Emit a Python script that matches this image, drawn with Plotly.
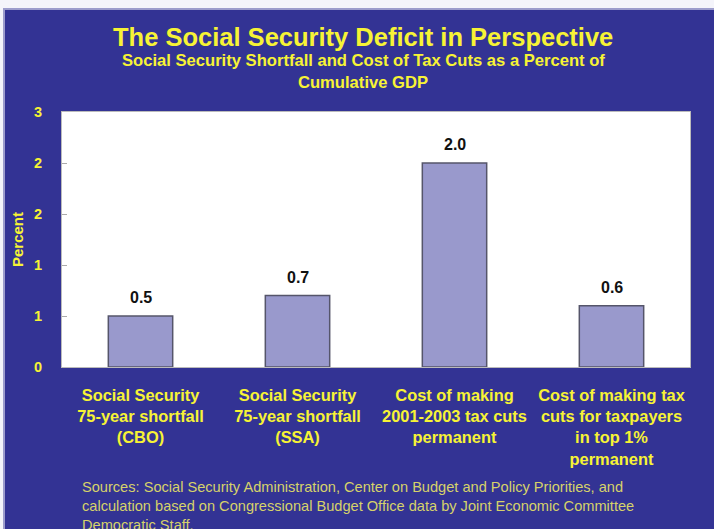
import plotly.graph_objects as go

categories = [
    "Social Security<br>75-year shortfall<br>(CBO)",
    "Social Security<br>75-year shortfall<br>(SSA)",
    "Cost of making<br>2001-2003 tax cuts<br>permanent",
    "Cost of making tax<br>cuts for taxpayers<br>in top 1%<br>permanent",
]
values = [0.5, 0.7, 2.0, 0.6]
y_tick_vals = [0, 0.5, 1.0, 1.5, 2.0, 2.5]
y_tick_text = ["0", "1", "1", "2", "2", "3"]

title = "The Social Security Deficit in Perspective"
subtitle_lines = ["Social Security Shortfall and Cost of Tax Cuts as a Percent of", "Cumulative GDP"]
y_title = "Percent"
source = ("Sources: Social Security Administration, Center on Budget and Policy Priorities, and<br>"
          "calculation based on Congressional Budget Office data by Joint Economic Committee<br>"
          "Democratic Staff.")

BG = "#333394"
YEL = "#F7F335"
SRC = "#D6D26A"
FONT = "Liberation Sans, Arial, sans-serif"

W, H = 714, 529
L, R, T, B = 62, 690, 112, 367  # plot area in px


def px_x(px):
    return (px - L) / (R - L)


def px_y(py):
    return (B - py) / (B - T)


fig = go.Figure(go.Bar(
    x=categories, y=values,
    marker=dict(color="#9999CC", line=dict(color="#55556A", width=1.5)),
    width=0.41,
    cliponaxis=False,
))

# value labels above bars
for c, v in zip(categories, values):
    fig.add_annotation(
        x=c, y=v, xref="x", yref="y", text=f"{v:.1f}", showarrow=False,
        yanchor="bottom", yshift=8,
        font=dict(family=FONT, size=16, color="#111111", weight="bold"),
    )

fig.update_layout(
    width=W, height=H,
    margin=dict(l=L, r=W - R, t=T, b=H - B),
    paper_bgcolor=BG, plot_bgcolor="white",
    showlegend=False,
    bargap=0.59,
    font=dict(family=FONT),
)

fig.update_xaxes(
    tickfont=dict(family=FONT, size=16.4, color=YEL, weight="bold"),
    showline=True, linecolor="#BBBBBB", linewidth=1, mirror=True,
    ticks="", showgrid=False,
    ticklabelstandoff=13,
)
fig.update_yaxes(
    range=[0, 2.5], tickvals=y_tick_vals, ticktext=y_tick_text,
    tickfont=dict(family=FONT, size=14.5, color=YEL, weight="bold"),
    ticks="inside", ticklen=5, tickcolor="#AAAAAA",
    showline=True, linecolor="#BBBBBB", linewidth=1, mirror=True,
    showgrid=False, zeroline=False,
    ticklabelstandoff=16,
)

ann = [
    dict(text=title, x=px_x(362.5), y=px_y(37), font=dict(family=FONT, size=25.5, color=YEL, weight="bold")),
    dict(text=subtitle_lines[0], x=px_x(363), y=px_y(60), font=dict(family=FONT, size=16.6, color=YEL, weight="bold")),
    dict(text=subtitle_lines[1], x=px_x(363), y=px_y(82), font=dict(family=FONT, size=16.6, color=YEL, weight="bold")),
    dict(text=y_title, x=px_x(17), y=px_y(240), textangle=-90, font=dict(family=FONT, size=15, color=YEL, weight="bold")),
]
for a in ann:
    a.update(xref="paper", yref="paper", showarrow=False, xanchor="center", yanchor="middle")
    fig.add_annotation(**a)
fig.add_annotation(
    text=source, xref="paper", yref="paper", x=px_x(80), y=px_y(477),
    xanchor="left", yanchor="top", align="left", showarrow=False,
    font=dict(family=FONT, size=14.6, color=SRC),
)

# light frame on top and left edges
shapes = [
    dict(x0=px_x(0), x1=px_x(W), y0=px_y(0), y1=px_y(8), fillcolor="#F4F4FA"),
    dict(x0=px_x(0), x1=px_x(W), y0=px_y(8), y1=px_y(10), fillcolor="#9C9CCC"),
    dict(x0=px_x(0), x1=px_x(3), y0=px_y(0), y1=px_y(H), fillcolor="#F4F4FA"),
    dict(x0=px_x(3), x1=px_x(5), y0=px_y(8), y1=px_y(H), fillcolor="#9C9CCC"),
]
for s in shapes:
    fig.add_shape(type="rect", xref="paper", yref="paper", line=dict(width=0), layer="above", **s)

fig.write_html("out.html")
